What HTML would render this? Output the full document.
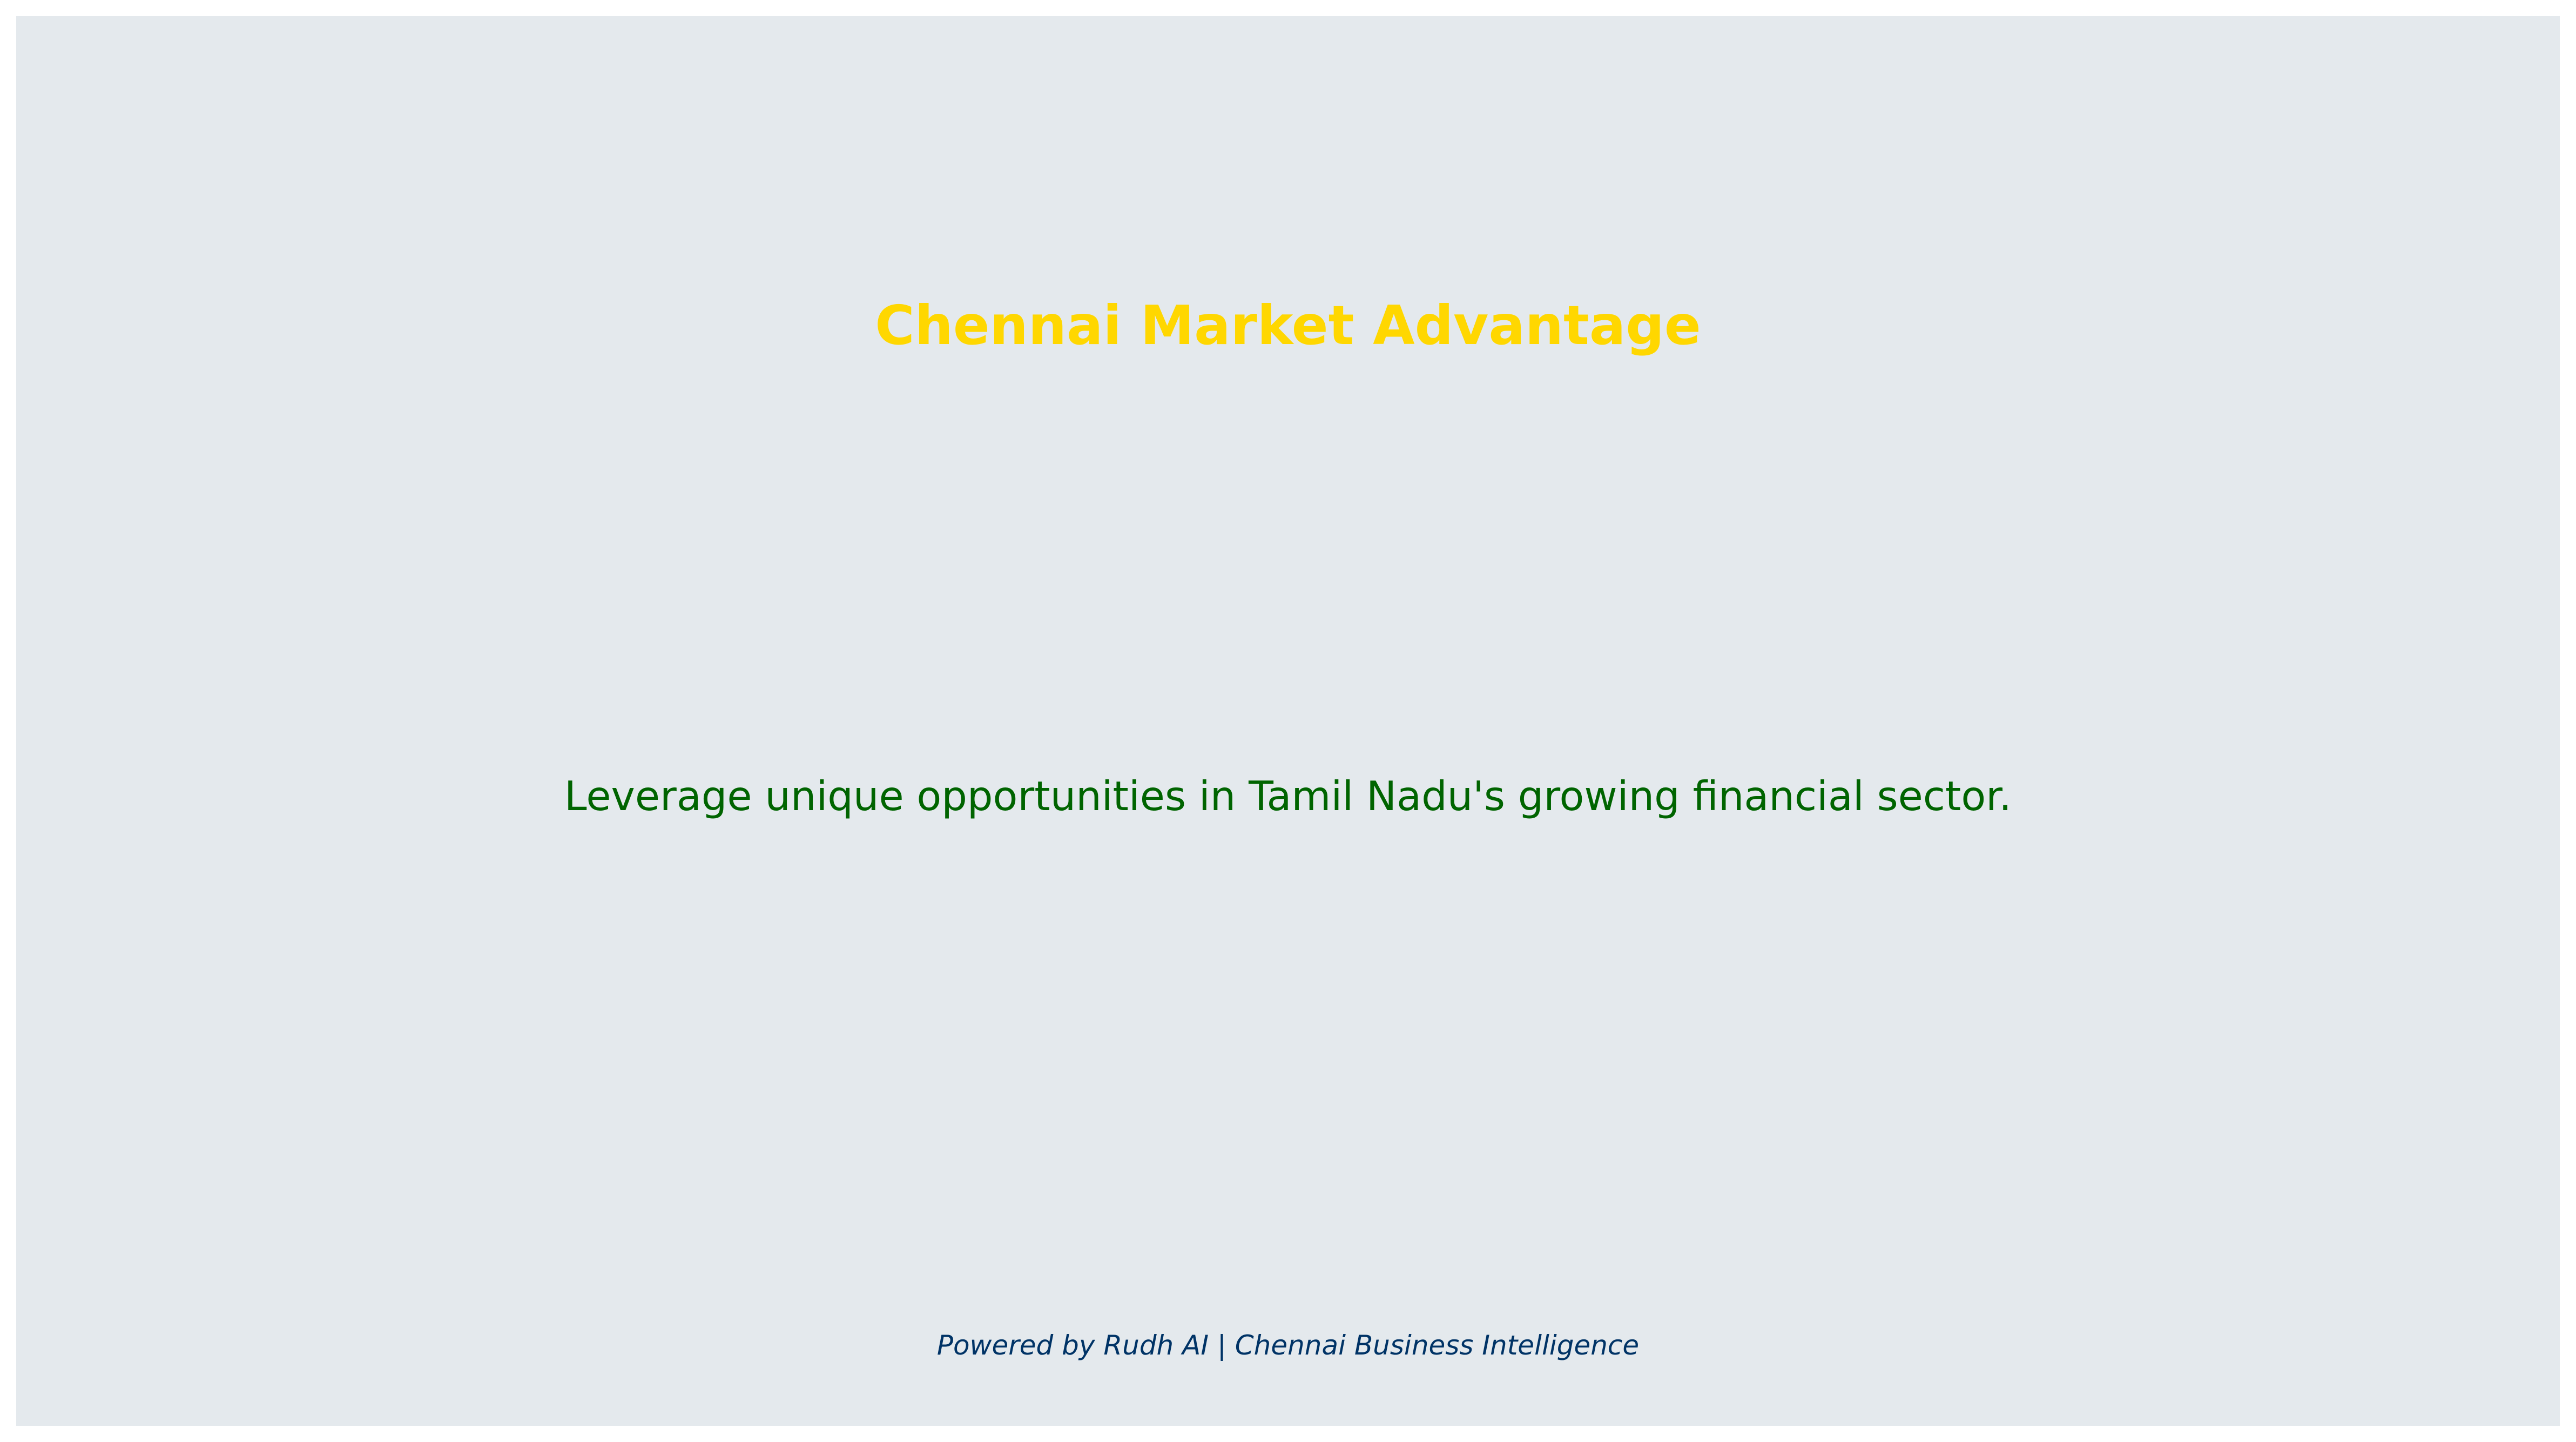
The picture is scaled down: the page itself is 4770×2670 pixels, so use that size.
<!DOCTYPE html>
<html><head><meta charset="utf-8"><style>
html,body{margin:0;padding:0;background:#fff;}
svg{display:block;}
</style></head><body>
<svg width="4770" height="2670" viewBox="0 0 4770 2670" xmlns="http://www.w3.org/2000/svg">
<rect x="0" y="0" width="4770" height="2670" fill="#ffffff"/>
<rect x="30" y="30" width="4710" height="2610" fill="#e4e9ed"/>
<text x="2385" y="637" text-anchor="middle" font-family="DejaVu Sans, sans-serif" font-weight="bold" font-size="100" fill="#ffd700">Chennai Market Advantage</text>
<text x="2385" y="1500" text-anchor="middle" font-family="DejaVu Sans, sans-serif" font-size="75" fill="#006400">Leverage unique opportunities in Tamil Nadu's growing financial sector.</text>
<text x="2385" y="2508" text-anchor="middle" font-family="DejaVu Sans, sans-serif" font-style="italic" font-size="50" fill="#003366">Powered by Rudh AI | Chennai Business Intelligence</text>
</svg>
</body></html>
